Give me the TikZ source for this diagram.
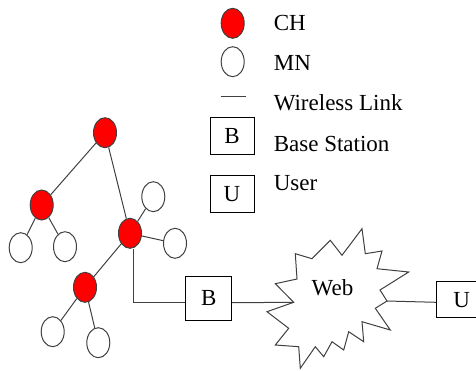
\documentclass[tikz,border=0pt]{standalone}
\usepackage{fontspec}
\setmainfont{Liberation Serif}
\usetikzlibrary{shapes.geometric}

\begin{document}
\begin{tikzpicture}
    [x=1pt,y=-1pt,line width=1pt,
     every node/.style={font=\fontsize{23}{27}\selectfont,inner sep=0pt},
     ch/.style={ellipse,draw=black!75,fill=red,minimum width=23pt,minimum height=30pt},
     mn/.style={ellipse,draw=black!75,fill=white,minimum width=23pt,minimum height=30pt},
     box/.style={draw,fill=white,minimum width=44pt,minimum height=37pt},
     link/.style={draw=black!75}]
    \useasboundingbox (0,0) rectangle (476,370);
    % legend
    \node[ch] (kch) at (232.7,23.3) {};
    \node[mn] (kmn) at (232.7,61.7) {};
    \draw[link] (220.7,96.7) -- (245.7,96.7);
    \node[box] (kb) at (232,136) {B};
    \node[box] (ku) at (232,194) {U};
    \node[anchor=base west] (tch) at (273.3,30.7) {CH};
    \node[anchor=base west] (tmn) at (273.3,70.7) {MN};
    \node[anchor=base west] (twl) at (273.3,110) {Wireless Link};
    \node[anchor=base west] (tbs) at (273.3,151.7) {Base Station};
    \node[anchor=base west] (tus) at (273.3,190) {User};
    % cluster tree
    \node[ch] (h0) at (105,132.7) {};
    \node[ch] (h1) at (41.7,205) {};
    \node[ch] (h2) at (130,233.3) {};
    \node[ch] (h3) at (85,287.3) {};
    \node[mn] (m1) at (20.7,247.7) {};
    \node[mn] (m2) at (65,246.7) {};
    \node[mn] (m3) at (153.3,196.7) {};
    \node[mn] (m4) at (175,243.3) {};
    \node[mn] (m5) at (52.7,331.7) {};
    \node[mn] (m6) at (98.3,342.7) {};
    \draw[link] (h0) -- (h1) ;
    \draw[link] (h0) -- (h2) ;
    \draw[link] (h1) -- (m1) ;
    \draw[link] (h1) -- (m2) ;
    \draw[link] (h2) -- (m3) ;
    \draw[link] (h2) -- (m4) ;
    \draw[link] (h2) -- (h3) ;
    \draw[link] (h3) -- (m5) ;
    \draw[link] (h3) -- (m6) ;
    % web
    \draw[draw=black!75,fill=white] (275.3,283.7) -- (297,279) -- (295.3,253.7) -- (312,258.7)
      -- (330.3,240.3) -- (342,255.3) -- (362,228.7) -- (365.3,253.7) -- (382,251)
      -- (377,268.7) -- (408.7,272) -- (380,290) -- (387,301) -- (375.3,308.3)
      -- (390.3,330) -- (362,321.7) -- (363.7,341.7) -- (348.7,331.7) -- (343.7,350)
      -- (332,341.7) -- (323.7,356.7) -- (315.3,346.7) -- (300.3,368.3) -- (298.7,346.7)
      -- (275.3,345) -- (288.7,328.3) -- (267,311.7) -- (293.7,302.3) -- cycle;
    \node (web) at (332.5,287.3) {Web};
    \coordinate (webl) at (293.7,302.3);
    \coordinate (webr) at (387,301);
    % base station and user
    \node[box,minimum width=45.7pt,minimum height=44pt] (b) at (208.8,298) {B};
    \node[box,minimum width=50pt,minimum height=36pt] (u) at (461.7,299.7) {U};
    \draw[link] ([xshift=3.3pt]h2.south) |- ([yshift=-4.7pt]b.west) ;
    \draw[link] ([yshift=-4.7pt]b.east) -- (webl) ;
    \draw[link] (webr) -- ([yshift=-2.6pt]u.west) ;
  \end{tikzpicture}
\end{document}
